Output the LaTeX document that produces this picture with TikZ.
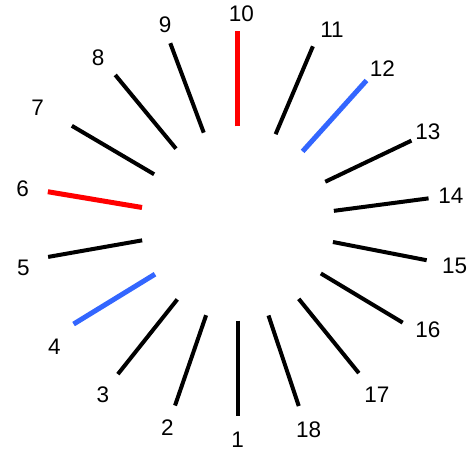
\documentclass[tikz,border=0pt]{standalone}
\usepackage{fontspec}
\setmainfont{Liberation Sans}
\definecolor{tickblue}{RGB}{51,102,255}
\definecolor{tickred}{RGB}{255,0,0}

\begin{document}
\begin{tikzpicture}[
        x=1pt, y=1pt,
        font=\fontsize{22.5}{26}\selectfont,
        tick/.style={
            line width=4pt
        },
        marked/.style={
            line width=5pt
        },
        num/.style={
            inner sep=0pt
        }
    ]
    \useasboundingbox (-237.7,-233.5) rectangle (232.3,223.5);

    % number / angle of the tick / angle and radius of the label / style / colour
    \foreach \n/\a/\b/\r/\s/\c in {
        1/270/270/216/tick/black,
        2/251/251/216/tick/black,
        3/231.5/231.8/218/tick/black,
        4/211.5/214/221/marked/tickblue,
        5/190/191.7/219/tick/black,
        6/170.5/170.7/218/marked/tickred,
        7/149.5/150/231/tick/black,
        8/129.5/130/217/tick/black,
        9/110.5/110/212/tick/black,
        10/90/89/210/marked/tickred,
        11/67/64/215/tick/black,
        12/48/47/212/marked/tickblue,
        13/25.5/25.7/211/tick/black,
        14/7.5/7.3/215/tick/black,
        15/-11/-11/221/tick/black,
        16/-31/-29.3/218/tick/black,
        17/-51/-51/221/tick/black,
        18/-71.5/-71/218/tick/black} {
        \coordinate (in\n) at (\a:97);
        \coordinate (out\n) at (\a:192.5);
        \draw[\s, draw=\c] (in\n) -- (out\n);
        \node[num] (lab\n) at (\b:\r) {\n};
    }
\end{tikzpicture}
\end{document}
